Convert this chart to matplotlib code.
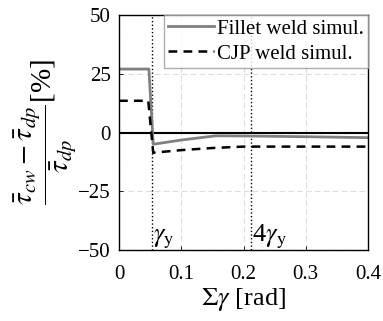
import numpy as np
import matplotlib.pyplot as plt

plt.rcParams['font.family'] = ['Liberation Serif', 'DejaVu Serif']
plt.rcParams['mathtext.fontset'] = 'stix'

gamma_y = 0.053
# Fillet weld simulation
fillet_x = [0.0, 0.048, 0.055, 0.10, 0.156, 0.21, 0.30, 0.40]
fillet_y = [27.0, 27.0, -5.0, -3.2, -1.4, -1.5, -1.8, -2.2]
# CJP weld simulation
cjp_x = [0.0, 0.047, 0.055, 0.10, 0.15, 0.20, 0.30, 0.40]
cjp_y = [13.5, 13.5, -8.6, -7.5, -6.6, -6.0, -6.0, -6.0]

xticks = [0, 0.1, 0.2, 0.3, 0.4]
yticks = [-50, -25, 0, 25, 50]

fig = plt.figure(figsize=(3.83, 3.21), dpi=100)
ax = fig.add_axes([119 / 383, 1 - 250 / 321, 249 / 383, 235 / 321])

ax.grid(True, linestyle=(0, (5, 3)), color='#dddddd', linewidth=0.8)
ax.set_axisbelow(True)
ax.axhline(0, color='black', linewidth=1.5)
ax.axvline(gamma_y, color='black', linestyle=':', linewidth=1)
ax.axvline(4 * gamma_y, color='black', linestyle=':', linewidth=1)

ax.plot(fillet_x, fillet_y, color='#808080', linewidth=2, label='Fillet weld simul.')
ax.plot(cjp_x, cjp_y, color='black', linestyle=(0, (3.5, 2.5)), linewidth=1.8,
        label='CJP weld simul.')

ax.text(gamma_y + 0.001, -50.5, r'$\gamma_{\mathrm{y}}$', fontsize=19, va='bottom', ha='left')
ax.text(4 * gamma_y + 0.001, -50.5, r'4$\gamma_{\mathrm{y}}$', fontsize=19, va='bottom', ha='left')

ax.set_xlim(0, 0.4)
ax.set_ylim(-50, 50)
ax.set_xticks(xticks)
ax.set_xticklabels(['0', '0.1', '0.2', '0.3', '0.4'])
ax.set_yticks(yticks)
ax.tick_params(labelsize=15, direction='in', length=3, width=0.6)
ax.tick_params(axis='x', pad=11)
ax.tick_params(axis='y', pad=6)
ax.set_xlabel(r'$\Sigma\gamma$ [rad]', fontsize=19, labelpad=1)
ax.set_ylabel(r'$\dfrac{\bar{\tau}_{cw}-\bar{\tau}_{dp}}{\bar{\tau}_{dp}}$[%]', fontsize=21, labelpad=0)
for s in ax.spines.values():
    s.set_linewidth(1.0)

leg = ax.legend(loc='upper right', fontsize=15, frameon=True, fancybox=False,
                borderpad=0.2, handlelength=2.2, handletextpad=0.15, labelspacing=0.25,
                borderaxespad=0)
leg.get_frame().set_edgecolor('#999999')
leg.get_frame().set_linewidth(1.0)

fig.savefig('out.png', dpi=100)
